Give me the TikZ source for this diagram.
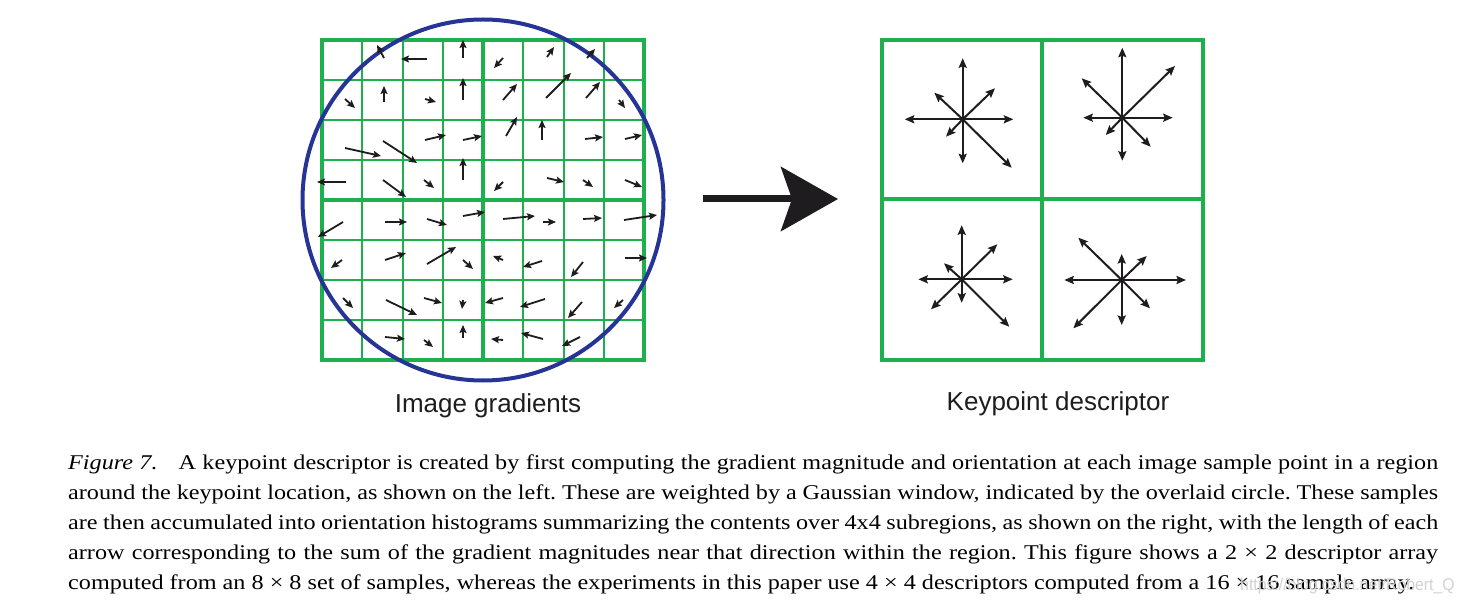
\documentclass[tikz,border=0pt]{standalone}
\usepackage{fontspec}
\setmainfont{Liberation Serif}
\setsansfont{Liberation Sans}
\newfontfamily\capfont{Liberation Serif}[FakeStretch=1.152]
\newfontfamily\wmfont{Liberation Sans}[FakeStretch=0.93]
\usetikzlibrary{arrows.meta}
\definecolor{gridgreen}{RGB}{30,176,76}
\definecolor{circblue}{RGB}{38,52,150}
\definecolor{ink}{RGB}{30,28,30}
\tikzset{
  thinline/.style={gridgreen, line width=2pt},
  thickline/.style={gridgreen, line width=4pt},
  grad/.style={ink, line width=1.8pt, -{Stealth[length=8pt,width=7pt,inset=1.5pt]}},
  histo/.style={ink, line width=2pt, -{Stealth[length=9.5pt,width=8pt,inset=1.5pt]}},
  bigarrow/.style={ink, line width=7pt, -{Stealth[length=57pt,width=64pt,inset=11pt]}},
  lbl/.style={font=\fontsize{26}{30}\selectfont\sffamily, text=ink, inner sep=0pt},
}
\begin{document}
\begin{tikzpicture}[x=1pt,y=-1pt]
\useasboundingbox (0,0) rectangle (1463,609);
% ---------- left grid ----------
\foreach \i in {1,2,3,5,6,7} {
  \draw[thinline] ({322+\i*40.25},40) -- ({322+\i*40.25},360);
  \draw[thinline] (322,{40+\i*40}) -- (644,{40+\i*40});
}
\draw[thickline] (483,40) -- (483,360);
\draw[thickline] (322,200) -- (644,200);
\draw[thickline] (322,40) rectangle (644,360);
% circle
\draw[circblue, line width=4pt] (483,200) circle (180.5);
% gradient arrows
\foreach \a/\b/\c/\d in {
  384/58/377/45, 427/59/401/59, 463/58/463/40,
  345/99/355/108, 384/102/384/86, 425/99/436/102, 463/100/463/78,
  425/140/446/135, 463/140/482/136, 345/148/381/156, 383/141/417/163,
  346/182/317/182, 383/180/406/197, 424/180/434/188, 463/180/463/158,
  503/58/494/68, 547/57/554/47, 587/58/595/49,
  503/100/517/84, 546/98/571/73, 586/98/600/82, 619/100/625/108,
  506/136/517/117, 542/140/542/120, 585/139/603/137, 625/139/642/135,
  503/182/494/191, 547/178/564/182, 583/180/593/187, 625/180/642/187,
  343/222/318/237, 385/222/407/222, 427/219/447/225, 463/216/485/212,
  342/260/331/268, 385/260/406/253, 427/264/456/247, 463/260/473/269,
  343/298/353/308, 386/300/417/315, 424/298/442/303, 463/300/462/309,
  385/337/405/339, 424/340/433/347, 463/338/463/325,
  503/219/535/216, 543/222/556/222, 583/219/602/218, 624/220/657/215,
  503/260/493/256, 542/261/523/267, 583/262/571/277, 625/258/647/258,
  503/298/485/303, 545/299/520/307, 582/302/568/318, 623/300/614/308,
  503/340/491/339, 543/339/521/333, 580/337/562/346}
  \draw[grad] (\a,\b) -- (\c,\d);
% ---------- big arrow ----------
\coordinate (arrowstart) at (703,199);
\coordinate (arrowend) at (838,199);
\draw[bigarrow] (arrowstart) -- (arrowend);
% ---------- right descriptor ----------
\draw[thickline] (1042,40) -- (1042,360);
\draw[thickline] (882,199) -- (1203,199);
\draw[thickline] (882,40) rectangle (1203,360);
% histogram stars: centre, then 8 endpoints (relative)
\foreach \cx/\cy/\uu/\dd/\ll/\rr/\urx/\ury/\ulx/\uly/\dlx/\dly/\drx/\dry in {
  962.7/119.3/61/44/58/50.6/32.3/31/28.4/26.6/16.7/17.4/49/48.4,
  1122.3/117.7/70/43/39/50.4/52.7/51.7/40.6/39.4/16.6/17.3/28.4/29,
  961.7/279.3/54/23.4/43.4/51/35.6/35/17.7/16/30.7/30/47.6/47.4,
  1121.7/280/26/45/57.4/64.3/25/24/43.4/42.3/48.4/48.3/28.3/28.3} {
  \coordinate (c) at (\cx,\cy);
  \draw[histo] (c) -- ++(0,-\uu);
  \draw[histo] (c) -- ++(0,\dd);
  \draw[histo] (c) -- ++(-\ll,0);
  \draw[histo] (c) -- ++(\rr,0);
  \draw[histo] (c) -- ++(\urx,-\ury);
  \draw[histo] (c) -- ++(-\ulx,-\uly);
  \draw[histo] (c) -- ++(-\dlx,\dly);
  \draw[histo] (c) -- ++(\drx,\dry);
}
% ---------- labels ----------
\node[lbl, anchor=base] (lbgrad) at (488,412) {Image gradients};
\node[lbl, anchor=base] (lbdesc) at (1058,410) {Keypoint descriptor};
% ---------- caption ----------
\node[anchor=north west, inner sep=0pt, text width=1370pt, align=justify,
      font=\capfont\fontsize{21}{30}\selectfont, text=black] (caption) at (68,455) {%
\hyphenpenalty=10000\exhyphenpenalty=10000\frenchspacing
\textit{Figure 7.}\quad A keypoint descriptor is created by first computing the gradient magnitude and orientation at each image sample point in a region\linebreak
around the keypoint location, as shown on the left. These are weighted by a Gaussian window, indicated by the overlaid circle. These samples\linebreak
are then accumulated into orientation histograms summarizing the contents over 4x4 subregions, as shown on the right, with the length of each\linebreak
arrow corresponding to the sum of the gradient magnitudes near that direction within the region. This figure shows a 2 × 2 descriptor array\linebreak
computed from an 8 × 8 set of samples, whereas the experiments in this paper use 4 × 4 descriptors computed from a 16 × 16 sample array.};
\node[anchor=base west, inner sep=0pt, font=\wmfont\fontsize{17}{20}\selectfont, text=black!18] (wm) at (1240,590) {https://blog.csdn.net/Robert\_Q};
\end{tikzpicture}
\end{document}
